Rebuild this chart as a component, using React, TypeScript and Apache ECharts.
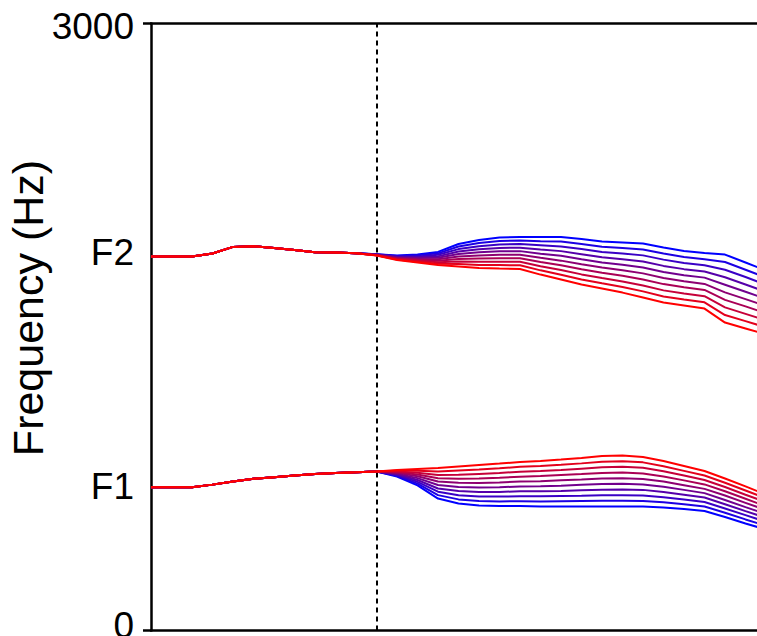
import React, { useEffect, useRef } from "react";
import * as echarts from "echarts";

// time frames (x positions, arbitrary units, no labels shown)
const frames = [0, 1, 2, 3, 4, 5, 6, 7, 8, 9, 10, 11, 12, 13, 14, 15, 16, 17, 18, 19, 20, 21, 22, 23, 24, 25, 26, 27, 28, 29, 30];
const splitFrame = 11; // dashed line, where the continua fan out

// common part of every line (frames 0..10), Hz
const f2Shared = [1848, 1848, 1848, 1863, 1896, 1899, 1891, 1881, 1870, 1868, 1865];
const f1Shared = [708, 708, 708, 721, 736, 750, 758, 766, 773, 779, 782];

// fan part (frames 11..30), step 0 = blue ... step 9 = red, Hz
const f2Fan = [
  [1860, 1853, 1858, 1871, 1910, 1930, 1942, 1945, 1945, 1945, 1935, 1923, 1918, 1913, 1893, 1876, 1866, 1858, 1819, 1779],
  [1859, 1851, 1854, 1864, 1898, 1915, 1925, 1927, 1924, 1922, 1910, 1897, 1890, 1883, 1863, 1846, 1835, 1821, 1783, 1744],
  [1858, 1848, 1849, 1857, 1885, 1899, 1908, 1910, 1904, 1898, 1885, 1871, 1863, 1854, 1833, 1816, 1805, 1783, 1747, 1709],
  [1858, 1846, 1845, 1849, 1873, 1884, 1891, 1892, 1883, 1875, 1860, 1845, 1835, 1824, 1802, 1786, 1774, 1746, 1710, 1674],
  [1857, 1843, 1841, 1842, 1861, 1869, 1874, 1875, 1862, 1852, 1835, 1819, 1808, 1794, 1772, 1756, 1744, 1709, 1674, 1639],
  [1856, 1841, 1836, 1835, 1848, 1853, 1857, 1857, 1842, 1828, 1810, 1794, 1780, 1765, 1742, 1726, 1713, 1671, 1638, 1603],
  [1855, 1838, 1832, 1828, 1836, 1838, 1840, 1840, 1821, 1805, 1785, 1768, 1753, 1735, 1712, 1696, 1683, 1634, 1602, 1568],
  [1855, 1836, 1828, 1820, 1824, 1823, 1823, 1822, 1800, 1782, 1760, 1742, 1725, 1705, 1681, 1666, 1652, 1597, 1565, 1533],
  [1854, 1833, 1823, 1813, 1811, 1807, 1806, 1805, 1780, 1758, 1735, 1716, 1698, 1676, 1651, 1636, 1622, 1559, 1529, 1498],
  [1853, 1831, 1819, 1806, 1799, 1792, 1789, 1787, 1759, 1735, 1710, 1690, 1670, 1646, 1621, 1606, 1591, 1522, 1493, 1463],
];

const f1Fan = [
  [786, 761, 717, 652, 628, 618, 615, 615, 613, 613, 613, 613, 613, 613, 608, 600, 591, 561, 529, 499],
  [786, 765, 726, 669, 648, 640, 638, 639, 638, 639, 640, 641, 641, 640, 634, 624, 613, 582, 549, 518],
  [786, 768, 735, 686, 669, 662, 662, 663, 663, 665, 666, 668, 669, 667, 659, 647, 635, 603, 570, 537],
  [786, 772, 744, 702, 689, 685, 685, 688, 688, 690, 693, 696, 697, 695, 685, 671, 657, 624, 590, 557],
  [786, 775, 753, 719, 709, 707, 708, 712, 713, 716, 720, 724, 725, 722, 710, 695, 679, 645, 610, 576],
  [786, 779, 762, 736, 730, 729, 732, 736, 738, 742, 746, 751, 753, 749, 736, 718, 700, 667, 631, 595],
  [786, 782, 771, 753, 750, 751, 755, 760, 763, 768, 773, 779, 781, 776, 761, 742, 722, 688, 651, 614],
  [786, 786, 780, 769, 770, 774, 778, 785, 788, 793, 800, 807, 809, 804, 787, 766, 744, 709, 671, 634],
  [786, 789, 789, 786, 791, 796, 802, 809, 813, 819, 826, 834, 837, 831, 812, 789, 766, 730, 692, 653],
  [786, 793, 798, 803, 811, 818, 825, 833, 838, 845, 853, 862, 865, 858, 838, 813, 788, 751, 712, 672],
];

// y axis
const yMin = 0;
const yMax = 3000;
const yTickValues = [0, 3000];
const yLabelValues = [25, 712, 1866, 2983];
const yLabelTexts = ["0", "F1", "F2", "3000"];
const yAxisTitle = "Frequency (Hz)";

const FONT = "'Liberation Sans', Arial, sans-serif";

function stepColor(k: number, n: number) {
  const t = k / (n - 1);
  const r = Math.round(255 * t);
  const b = Math.round(255 * (1 - t));
  return `rgb(${r},0,${b})`;
}

function buildLine(shared: number[], fan: number[]) {
  return frames.map((x, i) => [x, i < shared.length ? shared[i] : fan[i - shared.length]]);
}

export default function App() {
  const ref = useRef<HTMLDivElement>(null);
  useEffect(() => {
    if (!ref.current) return;
    const chart = echarts.init(ref.current, undefined, { renderer: "svg" });
    const series: any[] = [];
    const n = f2Fan.length;
    [
      { shared: f1Shared, fan: f1Fan, name: "F1" },
      { shared: f2Shared, fan: f2Fan, name: "F2" },
    ].forEach((f) => {
      f.fan.forEach((line, k) => {
        series.push({
          type: "line",
          name: f.name + "-" + k,
          data: buildLine(f.shared, line),
          showSymbol: false,
          symbol: "none",
          lineStyle: { color: stepColor(k, n), width: 2 },
          z: 2 + k,
          silent: true,
        });
      });
    });
    series.push({
      type: "line",
      data: [],
      symbol: "none",
      markLine: {
        silent: true,
        symbol: ["none", "none"],
        label: { show: false },
        lineStyle: { color: "#000", width: 2, type: [5, 4] },
        data: [{ xAxis: splitFrame }],
      },
      z: 1,
    });

    chart.setOption({
      animation: false,
      grid: { left: 151, top: 23.5, width: 615, height: 607, containLabel: false, outerBoundsMode: "none" },
      graphic: [
        {
          type: "text",
          x: 28,
          y: 308,
          rotation: Math.PI / 2,
          style: {
            text: yAxisTitle,
            font: `43px ${FONT}`,
            fill: "#000",
            textAlign: "center",
            textVerticalAlign: "middle",
          },
        },
      ],
      xAxis: [
        {
          type: "value",
          min: frames[0],
          max: frames[frames.length - 1],
          position: "bottom",
          axisLine: { show: true, onZero: false, lineStyle: { color: "#000", width: 2.5 } },
          axisTick: { show: false },
          axisLabel: { show: false },
          splitLine: { show: false },
        },
        {
          type: "value",
          min: frames[0],
          max: frames[frames.length - 1],
          position: "top",
          axisLine: { show: true, onZero: false, lineStyle: { color: "#000", width: 2.5 } },
          axisTick: { show: false },
          axisLabel: { show: false },
          splitLine: { show: false },
        },
      ],
      yAxis: {
        type: "value",
        min: yMin,
        max: yMax,
        axisLine: { show: true, lineStyle: { color: "#000", width: 2.5 } },
        axisTick: {
          show: true,
          length: 8,
          lineStyle: { color: "#000", width: 2.5 },
          customValues: yTickValues,
        },
        axisLabel: {
          show: true,
          margin: 17,
          fontSize: 37,
          fontFamily: FONT,
          color: "#000",
          customValues: yLabelValues,
          formatter: (v: number) => {
            const idx = yLabelValues.indexOf(v);
            return idx >= 0 ? yLabelTexts[idx] : "";
          },
        },
        splitLine: { show: false },
      },
      series,
    });
    return () => chart.dispose();
  }, []);
  return (
    <div
      ref={ref}
      style={{ position: "absolute", left: 0, top: 0, width: 757, height: 636, background: "#fff" }}
    />
  );
}
